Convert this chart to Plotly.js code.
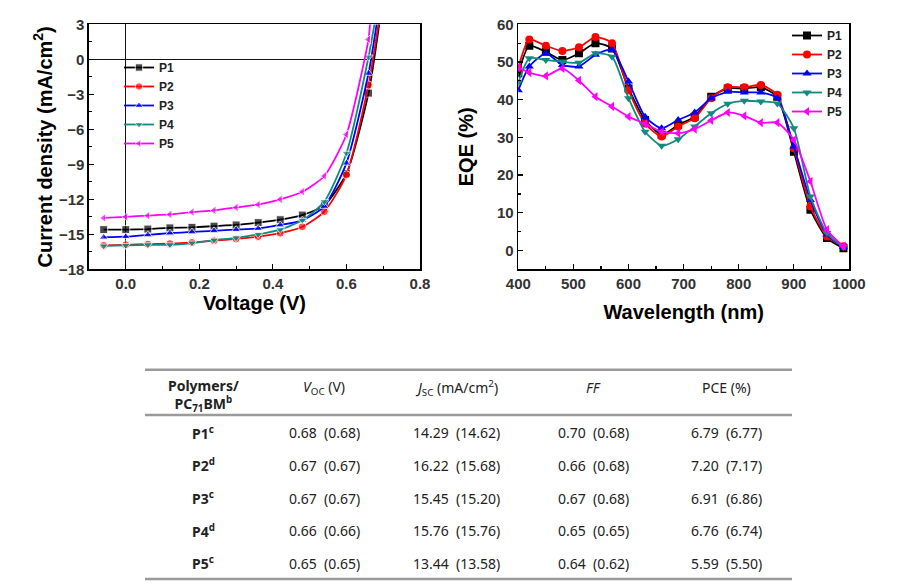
<!DOCTYPE html>
<html>
<head>
<meta charset="utf-8">
<script src="https://cdn.plot.ly/plotly-3.0.1.min.js"></script>
<style>html,body{margin:0;padding:0;background:#fff;}#chart{width:919px;height:587px;}</style>
</head>
<body>
<div id="chart"></div>
<script>
// ---------- J-V data ----------
const series = ['P1', 'P2', 'P3', 'P4', 'P5'];
const voltage = [-0.06, 0, 0.06, 0.12, 0.18, 0.24, 0.30, 0.36, 0.42, 0.48, 0.54, 0.60, 0.66];
const jP1 = [-14.6, -14.6, -14.55, -14.45, -14.4, -14.3, -14.2, -14.0, -13.75, -13.35, -12.5, -9.8, -2.9];
const jP2 = [-15.95, -15.9, -15.85, -15.8, -15.7, -15.55, -15.4, -15.2, -14.9, -14.35, -13.05, -9.9, -2.2];
const jP3 = [-15.25, -15.2, -15.05, -14.9, -14.8, -14.7, -14.6, -14.5, -14.2, -13.8, -12.6, -8.9, -1.2];
const jP4 = [-16.0, -15.95, -15.9, -15.9, -15.75, -15.5, -15.3, -15.0, -14.6, -13.8, -12.2, -8.05, 0.2];
const jP5 = [-13.6, -13.5, -13.4, -13.3, -13.1, -12.95, -12.7, -12.45, -12.0, -11.35, -10.0, -6.45, 1.7];
// voltage where each curve leaves the top of the plot (J = 3)
const vExit = [0.689, 0.687, 0.682, 0.676, 0.664];
const jExit = 3;

// ---------- EQE data ----------
const wavelength = [400, 420, 450, 480, 510, 540, 570, 600, 630, 660, 690, 720, 750, 780, 810, 840, 870, 900, 930, 960, 990];
const eqeP1 = [47.0, 54.3, 52.7, 50.5, 52.3, 55.0, 53.6, 43.0, 34.6, 30.7, 33.3, 35.5, 40.8, 43.0, 43.0, 43.3, 40.8, 26.2, 10.8, 3.3, 0.6];
const eqeP2 = [48.5, 56.0, 54.3, 52.9, 53.9, 56.6, 55.0, 42.5, 33.7, 30.2, 32.9, 35.1, 40.4, 43.3, 43.3, 43.9, 41.3, 27.1, 11.7, 3.7, 1.1];
const eqeP3 = [42.5, 48.8, 52.3, 49.2, 48.8, 51.9, 53.2, 44.8, 35.5, 32.4, 34.6, 36.6, 40.4, 42.1, 41.9, 41.9, 40.4, 27.6, 13.4, 4.2, 0.9];
const eqeP4 = [44.5, 51.0, 50.5, 50.1, 49.8, 52.3, 51.4, 40.4, 31.5, 27.8, 29.5, 32.9, 36.4, 38.9, 39.7, 39.5, 39.0, 32.4, 14.3, 4.6, 0.9];
const eqeP5 = [48.5, 47.2, 46.3, 48.3, 45.1, 40.8, 38.2, 35.5, 33.6, 31.5, 31.1, 32.2, 34.5, 36.6, 35.7, 33.9, 33.9, 29.3, 18.3, 5.5, 1.1];

// ---------- table data ----------
const footnotes = ['c', 'd', 'c', 'd', 'c'];
const vocBest = [0.68, 0.67, 0.67, 0.66, 0.65];
const vocAvg = [0.68, 0.67, 0.67, 0.66, 0.65];
const jscBest = [14.29, 16.22, 15.45, 15.76, 13.44];
const jscAvg = [14.62, 15.68, 15.20, 15.76, 13.58];
const ffBest = [0.70, 0.66, 0.67, 0.65, 0.64];
const ffAvg = [0.68, 0.68, 0.68, 0.65, 0.62];
const pceBest = [6.79, 7.20, 6.91, 6.76, 5.59];
const pceAvg = [6.77, 7.17, 6.86, 6.74, 5.50];
const tableHeader = ['<b>Polymers/</b><br><b>PC<sub>71</sub>BM<sup>b</sup></b>', '<i>V</i><sub>OC</sub> (V)',
  '<i>J</i><sub>SC</sub> (mA/cm<sup>2</sup>)', '<i>FF</i>', 'PCE (%)'];

// ---------- styles ----------
const colors = ['#000000', '#ff0000', '#0000ff', '#138a80', '#ff00ff'];
const symbols = ['square', 'circle', 'triangle-up', 'triangle-down', 'triangle-left'];
const jData = [jP1, jP2, jP3, jP4, jP5];
const eqeData = [eqeP1, eqeP2, eqeP3, eqeP4, eqeP5];
const W = 919, H = 587;
const px = x => x / W, py = y => 1 - y / H;

const traces = [];
series.forEach((name, i) => {
  const xs = voltage.concat([vExit[i]]);
  const ys = jData[i].concat([jExit]);
  const sizes = xs.map((_, k) => (k === xs.length - 1 ? 0 : 8));
  traces.push({
    type: 'scatter', mode: 'lines+markers', name: name, x: xs, y: ys,
    xaxis: 'x', yaxis: 'y', legend: 'legend',
    line: {color: colors[i], width: 1.8, shape: 'spline', smoothing: 0.6},
    marker: {symbol: symbols[i], color: colors[i], size: sizes},
  });
});
series.forEach((name, i) => {
  traces.push({
    type: 'scatter', mode: 'lines+markers', name: name, x: wavelength, y: eqeData[i],
    xaxis: 'x2', yaxis: 'y2', legend: 'legend2',
    line: {color: colors[i], width: 1.8, shape: 'spline', smoothing: 0.6},
    marker: {symbol: symbols[i], color: colors[i], size: 8},
  });
});

// ---------- table drawn as paper annotations ----------
const fmt = (a, b, d) => a.toFixed(d) + '\u00a0 (' + b.toFixed(d) + ')';
const tableColumns = [
  series.map((s, i) => '<b>' + s + '<sup>' + footnotes[i] + '</sup></b>'),
  vocBest.map((v, i) => fmt(v, vocAvg[i], 2)),
  jscBest.map((v, i) => fmt(v, jscAvg[i], 2)),
  ffBest.map((v, i) => fmt(v, ffAvg[i], 2)),
  pceBest.map((v, i) => fmt(v, pceAvg[i], 2)),
];
const colCenter = [203, 324, 456.7, 593, 726.7];
const headerRowY = [395.5, 387.5, 387.5, 387.5, 387.5];
const firstRowY = 432.7, rowStep = 32.65;
const tableFont = {family: 'Noto Sans, sans-serif', size: 14, color: '#222'};
const annotations = [];
tableHeader.forEach((t, c) => annotations.push({
  text: t, x: px(colCenter[c]), y: py(headerRowY[c]), xref: 'paper', yref: 'paper',
  xanchor: 'center', yanchor: 'middle', showarrow: false, font: tableFont
}));
tableColumns.forEach((col, c) => col.forEach((t, r) => annotations.push({
  text: t, x: px(colCenter[c]), y: py(firstRowY + r * rowStep), xref: 'paper', yref: 'paper',
  xanchor: 'center', yanchor: 'middle', showarrow: false, font: tableFont
})));

const tickFont = {family: 'Liberation Sans, Arial, sans-serif', size: 15, weight: 'bold', color: '#333'};
const titleFont = {family: 'Liberation Sans, Arial, sans-serif', size: 20, weight: 'bold', color: '#000'};
const legendFont = {family: 'Liberation Sans, Arial, sans-serif', size: 12, weight: 'bold', color: '#222'};
const axisCommon = {
  showline: true, linecolor: '#000', linewidth: 1.6, mirror: true, showgrid: false,
  ticks: 'inside', ticklen: 5, tickwidth: 1.2, tickcolor: '#000', tickfont: tickFont,
  automargin: false, fixedrange: true
};
const ruleY = [369.7, 415, 579];

const layout = {
  width: W, height: H,
  margin: {l: 0, r: 0, t: 0, b: 0},
  paper_bgcolor: '#fff', plot_bgcolor: '#fff',
  font: {family: 'Liberation Sans, Arial, sans-serif', color: '#000'},
  xaxis: Object.assign({}, axisCommon, {
    domain: [px(89), px(420)], anchor: 'y', range: [-0.1, 0.8], tick0: 0, dtick: 0.2, tickformat: '.1f',
    minor: {dtick: 0.1, ticks: 'inside', ticklen: 3, tickcolor: '#000'},
    zeroline: true, zerolinecolor: '#111', zerolinewidth: 1,
    title: {text: 'Voltage (V)', font: titleFont, standoff: 4}
  }),
  yaxis: Object.assign({}, axisCommon, {
    domain: [py(269.3), py(24.3)], anchor: 'x', range: [-18, 3], tick0: 0, dtick: 3,
    minor: {dtick: 1.5, ticks: 'inside', ticklen: 3, tickcolor: '#000'},
    zeroline: true, zerolinecolor: '#111', zerolinewidth: 1,
    title: {text: 'Current density (mA/cm<sup>2</sup>)', font: titleFont, standoff: 1}
  }),
  xaxis2: Object.assign({}, axisCommon, {
    domain: [px(518.3), px(849)], anchor: 'y2', range: [400, 1000], dtick: 100,
    minor: {dtick: 50, ticks: 'inside', ticklen: 3, tickcolor: '#000'},
    zeroline: false,
    title: {text: 'Wavelength (nm)', font: titleFont, standoff: 14}
  }),
  yaxis2: Object.assign({}, axisCommon, {
    domain: [py(269.3), py(24.3)], anchor: 'x2', range: [-5, 60], dtick: 10,
    minor: {dtick: 5, ticks: 'inside', ticklen: 3, tickcolor: '#000'},
    zeroline: false,
    title: {text: 'EQE (%)', font: titleFont, standoff: 18}
  }),
  legend: {
    x: px(119), y: py(53), xanchor: 'left', yanchor: 'top', bgcolor: 'rgba(0,0,0,0)', font: legendFont
  },
  legend2: {
    x: px(787), y: py(21), xanchor: 'left', yanchor: 'top', bgcolor: 'rgba(0,0,0,0)', font: legendFont
  },
  annotations: annotations,
  shapes: ruleY.map(y => ({
    type: 'line', xref: 'paper', yref: 'paper', x0: px(145), x1: px(792),
    y0: py(y), y1: py(y), line: {color: '#9a9a9a', width: 2.5}
  })),
};

Plotly.newPlot('chart', traces, layout, {displayModeBar: false, staticPlot: true});
</script>
</body>
</html>
